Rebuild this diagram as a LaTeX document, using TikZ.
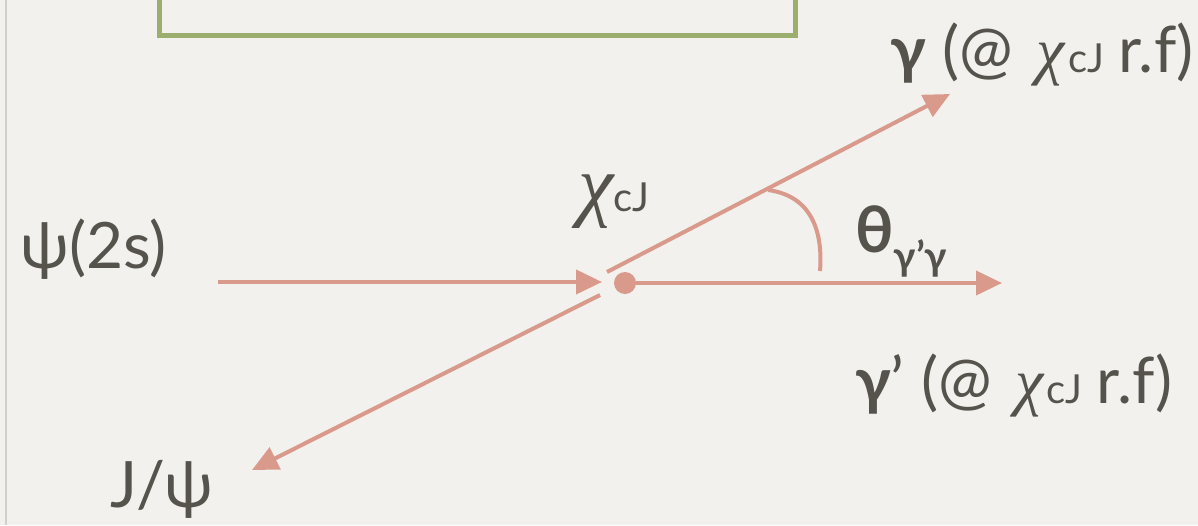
\documentclass[tikz,border=0pt]{standalone}
\usepackage{fontspec}
\setmainfont{Lato}
\newfontfamily\chifont{Liberation Serif}
\usepackage{tikz}
\usetikzlibrary{arrows.meta}
\definecolor{paper}{HTML}{F2F1EE}
\definecolor{ink}{HTML}{56524C}
\definecolor{salmon}{HTML}{D99A8C}
\definecolor{leaf}{HTML}{9CAE6E}
\definecolor{edge}{HTML}{CFCFCD}
\newcommand{\chicj}{{\chifont\itshape χ}\hspace{3pt}{\fontsize{40}{42}\selectfont cJ}}

\begin{document}
\begin{tikzpicture}[x=1pt,y=-1pt,
 lab/.style={text=ink,inner sep=0pt,font=\fontsize{64}{70}\selectfont},
 arrow/.style={-{Triangle[length=26pt,width=24pt]},line width=4pt,draw=salmon},
 arcline/.style={line width=4pt,draw=salmon},
 frame/.style={draw=leaf,line width=5pt,fill=paper,minimum width=636pt,minimum height=90pt,inner sep=0pt}
]
\fill[paper] (0,0) rectangle (1198,525);
\useasboundingbox (0,0) rectangle (1198,525);
\clip (0,0) rectangle (1198,525);
\draw[edge,line width=1.5pt] (6,0) -- (6,525);
% formula box, cut by the top edge
\node[frame,anchor=south west] (formula) at (157,38) {};
% end points
\coordinate (psiin) at (218,282);
\node[circle,fill=salmon,inner sep=0pt,minimum size=22pt] (vtx) at (625,283) {};
\coordinate (psitip) at (602,282);
\coordinate (gstart) at (607,272);
\coordinate (gtip) at (950,94);
\coordinate (gpstart) at (636,283);
\coordinate (gptip) at (1002,283);
\coordinate (jstart) at (600,295);
\coordinate (jtip) at (252,470);
\coordinate (arcA) at (768,190);
\coordinate (arcB) at (820,271);
\draw[arrow] (psiin) -- (psitip);
\draw[arrow] (gstart) -- (gtip);
\draw[arrow] (gpstart) -- (gptip);
\draw[arrow] (jstart) -- (jtip);
\draw[arcline] (arcA) .. controls (812,196) and (823,232) .. (arcB);
% labels
\node[lab,anchor=base west] (psilab) at (20,268) {ψ(2s)};
\node[lab,anchor=base west] (jlab) at (110,507) {J/ψ};
\node[lab,anchor=base west] (chilab) at (578,211) {{\chifont\itshape\fontsize{80}{80}\selectfont χ}{\fontsize{40}{42}\selectfont cJ}};
\node[lab,anchor=base west] (thlab) at (855,252) {\textbf{θ}\raisebox{-18pt}{\fontsize{40}{42}\selectfont\textbf{γ'γ}}};
\node[lab,anchor=base west] (glab) at (890,72) {\textbf{γ} (@\hspace{24pt}\chicj\hspace{14pt}r.f)};
\node[lab,anchor=base west] (gplab) at (855,403) {\textbf{γ}' (@\hspace{24pt}\chicj\hspace{14pt}r.f)};
\end{tikzpicture}
\end{document}
